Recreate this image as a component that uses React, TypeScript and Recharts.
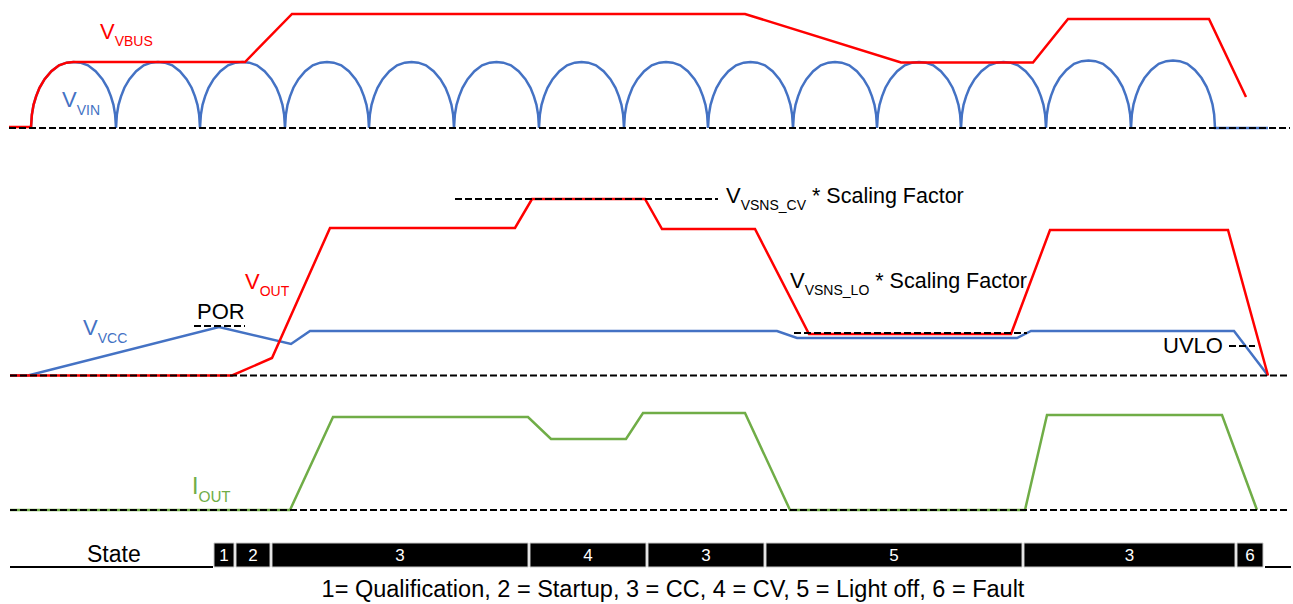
import React from 'react';
import { ComposedChart, Line, XAxis, YAxis, ReferenceArea, ReferenceDot } from 'recharts';

const W = 1293;
const H = 604;
const FONT = '"Liberation Sans", Arial, Helvetica, sans-serif';
const RED = '#FF0000';
const BLUE = '#4472C4';
const GREEN = '#70AD47';
const BLACK = '#000000';

// ---- time axis (t) and level axis (top-down) values ----
// V_VIN : rectified sine, trough instants and crest levels
const VIN_BASE = 128;
const VIN_TROUGHS = [31, 116, 200, 285, 369, 454, 539, 624, 708, 793, 877, 961, 1046, 1131, 1215];
const VIN_PEAKS = [62, 62, 62, 62, 62, 62, 62, 62, 62, 62, 62, 62, 60.5, 60.5];
const VIN_TAIL_T = [1268];
// shape of one half-wave (phase within period, relative height)
const ARC_PHASE = [0, 0.01, 0.03, 0.06, 0.1, 0.16, 0.24, 0.33, 0.42, 0.5, 0.58, 0.67, 0.76, 0.84, 0.9, 0.94, 0.97, 0.99, 1];
const ARC_HEIGHT = [0, 0.2, 0.35, 0.48, 0.61, 0.74, 0.86, 0.95, 0.99, 1, 0.99, 0.95, 0.86, 0.74, 0.61, 0.48, 0.35, 0.2, 0];

// V_VBUS
const VBUS_HEAD_T = [9, 31];
const VBUS_HEAD_V = [127, 127];
const VBUS_TAIL_T = [245, 292, 745, 901, 1033, 1068, 1209, 1246];
const VBUS_TAIL_V = [62, 14, 14, 62.5, 62.5, 19, 19, 97];

// V_VCC
const VCC_T = [10, 28, 219, 291, 310, 777, 797, 1017, 1031, 1234, 1268];
const VCC_V = [375.5, 375.5, 327, 344, 331, 331, 338, 338, 331, 331, 375.5];

// V_OUT
const VOUT_T = [10, 232, 272, 330, 515, 532, 645, 662, 755, 809, 1011, 1050, 1228, 1268];
const VOUT_V = [375.5, 375.5, 358, 228, 228, 199, 199, 229, 229, 334, 334, 230, 230, 375.5];

// I_OUT
const IOUT_T = [10, 290, 333, 528, 551, 626, 643, 745, 790, 1025, 1047, 1222, 1257];
const IOUT_V = [510, 510, 417, 417, 439, 439, 413, 413, 510, 510, 415, 415, 510];

// dashed guide levels
const GUIDE_START = [9, 10, 10, 455, 794, 194, 1229];
const GUIDE_END = [1290, 1290, 1290, 718, 1027, 245, 1255];
const GUIDE_LEVEL = [128, 375.5, 510, 199, 333, 326, 346];

// state bar
const STATE_START = [214, 236, 272, 530, 648, 766, 1024, 1237];
const STATE_END = [234, 270, 528, 646, 764, 1022, 1235, 1263];
const STATE_LABELS = ['1', '2', '3', '4', '3', '5', '3', '6'];
const STATE_TOP = 543;
const STATE_BOTTOM = 567;
const STATE_LINE_START = [10, 1265];
const STATE_LINE_END = [213, 1291];

const LEGEND_TEXT = '1= Qualification, 2 = Startup, 3 = CC, 4 = CV, 5 = Light off, 6 = Fault';

// ---- build tables ----
const pts = (ts: number[], vs: number[]) => ts.map((t, i) => ({ x: t, y: vs[i] }));

const vinData: { x: number; y: number }[] = [];
for (let i = 0; i < VIN_PEAKS.length; i++) {
  const t0 = VIN_TROUGHS[i];
  const t1 = VIN_TROUGHS[i + 1];
  ARC_PHASE.forEach((p, k) => {
    vinData.push({ x: t0 + p * (t1 - t0), y: VIN_BASE - ARC_HEIGHT[k] * (VIN_BASE - VIN_PEAKS[i]) });
  });
}
VIN_TAIL_T.forEach((t) => vinData.push({ x: t, y: VIN_BASE }));

const vbusData = [
  ...pts(VBUS_HEAD_T, VBUS_HEAD_V),
  ...ARC_PHASE.filter((p) => p > 0 && p <= 0.5).map((p, k) => ({
    x: VIN_TROUGHS[0] + p * (VIN_TROUGHS[1] - VIN_TROUGHS[0]),
    y: VIN_BASE - ARC_HEIGHT[k + 1] * (VIN_BASE - VIN_PEAKS[0]),
  })),
  ...pts(VBUS_TAIL_T, VBUS_TAIL_V),
];

const vccData = pts(VCC_T, VCC_V);
const voutData = pts(VOUT_T, VOUT_V);
const ioutData = pts(IOUT_T, IOUT_V);

type LabelProps = {
  main: string;
  sub?: string;
  rest?: string;
  color: string;
  size?: number;
  subSize?: number;
  restSize?: number;
  dy?: number;
  family?: string;
  anchor?: 'start' | 'middle' | 'end';
};

const makeShape = (lp: LabelProps) => (props: any) => {
  const { main, sub, rest, color, size = 22, subSize = 14, restSize = 21.5, dy = 7, family = FONT, anchor = 'start' } = lp;
  return (
    <text
      x={props.cx}
      y={props.cy}
      fill={color}
      fontFamily={family}
      fontSize={size}
      textAnchor={anchor}
      style={{ whiteSpace: 'pre' }}
    >
      <tspan>{main}</tspan>
      {sub ? (
        <tspan fontSize={subSize} dy={dy}>
          {sub}
        </tspan>
      ) : null}
      {rest ? (
        <tspan fontSize={restSize} dy={-dy}>
          {rest}
        </tspan>
      ) : null}
    </text>
  );
};

const LABELS: { t: number; v: number; lp: LabelProps }[] = [
  { t: 100, v: 39, lp: { main: 'V', sub: 'VBUS', color: RED, dy: 7 } },
  { t: 62, v: 107, lp: { main: 'V', sub: 'VIN', color: BLUE, dy: 8 } },
  { t: 83, v: 335, lp: { main: 'V', sub: 'VCC', color: BLUE, dy: 8 } },
  { t: 245, v: 289, lp: { main: 'V', sub: 'OUT', color: RED, dy: 7 } },
  { t: 197, v: 319, lp: { main: 'POR', color: BLACK } },
  { t: 726, v: 203, lp: { main: 'V', sub: 'VSNS_CV', rest: ' * Scaling Factor', color: BLACK, dy: 7 } },
  { t: 790, v: 288, lp: { main: 'V', sub: 'VSNS_LO', rest: ' * Scaling Factor', color: BLACK, dy: 7 } },
  { t: 1163, v: 353, lp: { main: 'UVLO', color: BLACK } },
  { t: 192, v: 494, lp: { main: 'I', sub: 'OUT', color: GREEN, dy: 8, size: 23, subSize: 15, family: 'Lato, "Open Sans", sans-serif' } },
  { t: 87, v: 562, lp: { main: 'State', color: BLACK, size: 23 } },
  { t: 673, v: 597, lp: { main: LEGEND_TEXT, color: BLACK, size: 23.5, anchor: 'middle' } },
];

export default function App() {
  return (
    <div style={{ position: 'absolute', left: 0, top: 0, width: W, height: H, background: '#fff' }}>
      <ComposedChart width={W} height={H} margin={{ top: 0, right: 0, bottom: 0, left: 0 }}>
        <XAxis dataKey="x" type="number" domain={[0, W]} hide allowDataOverflow />
        <YAxis type="number" domain={[0, H]} reversed hide allowDataOverflow />

        {STATE_START.map((s, i) => (
          <ReferenceArea
            key={'st' + i}
            x1={s}
            x2={STATE_END[i]}
            y1={STATE_TOP}
            y2={STATE_BOTTOM}
            fill={BLACK}
            fillOpacity={1}
            stroke="#c8c8c8"
            strokeWidth={1}
            label={{ value: STATE_LABELS[i], position: 'center', fill: '#fff', fontSize: 17, fontFamily: FONT }}
          />
        ))}

        <Line data={ioutData} dataKey="y" stroke={GREEN} strokeWidth={2.5} dot={false} activeDot={false} isAnimationActive={false} legendType="none" />
        <Line data={vinData} dataKey="y" stroke={BLUE} strokeWidth={2.5} dot={false} activeDot={false} isAnimationActive={false} legendType="none" />
        <Line data={vbusData} dataKey="y" stroke={RED} strokeWidth={2.5} dot={false} activeDot={false} isAnimationActive={false} legendType="none" />
        <Line data={vccData} dataKey="y" stroke={BLUE} strokeWidth={2.5} dot={false} activeDot={false} isAnimationActive={false} legendType="none" />
        <Line data={voutData} dataKey="y" stroke={RED} strokeWidth={2.5} dot={false} activeDot={false} isAnimationActive={false} legendType="none" />

        {GUIDE_START.map((s, i) => (
          <Line
            key={'g' + i}
            data={[{ x: s, y: GUIDE_LEVEL[i] }, { x: GUIDE_END[i], y: GUIDE_LEVEL[i] }]}
            dataKey="y"
            stroke={BLACK}
            strokeWidth={2}
            strokeDasharray="7 3"
            dot={false}
            activeDot={false}
            isAnimationActive={false}
            legendType="none"
          />
        ))}

        {STATE_LINE_START.map((s, i) => (
          <Line
            key={'sl' + i}
            data={[{ x: s, y: STATE_BOTTOM }, { x: STATE_LINE_END[i], y: STATE_BOTTOM }]}
            dataKey="y"
            stroke={BLACK}
            strokeWidth={2}
            dot={false}
            activeDot={false}
            isAnimationActive={false}
            legendType="none"
          />
        ))}

        {LABELS.map((l, i) => (
          <ReferenceDot key={'lb' + i} x={l.t} y={l.v} r={0} shape={makeShape(l.lp)} />
        ))}
      </ComposedChart>
    </div>
  );
}
